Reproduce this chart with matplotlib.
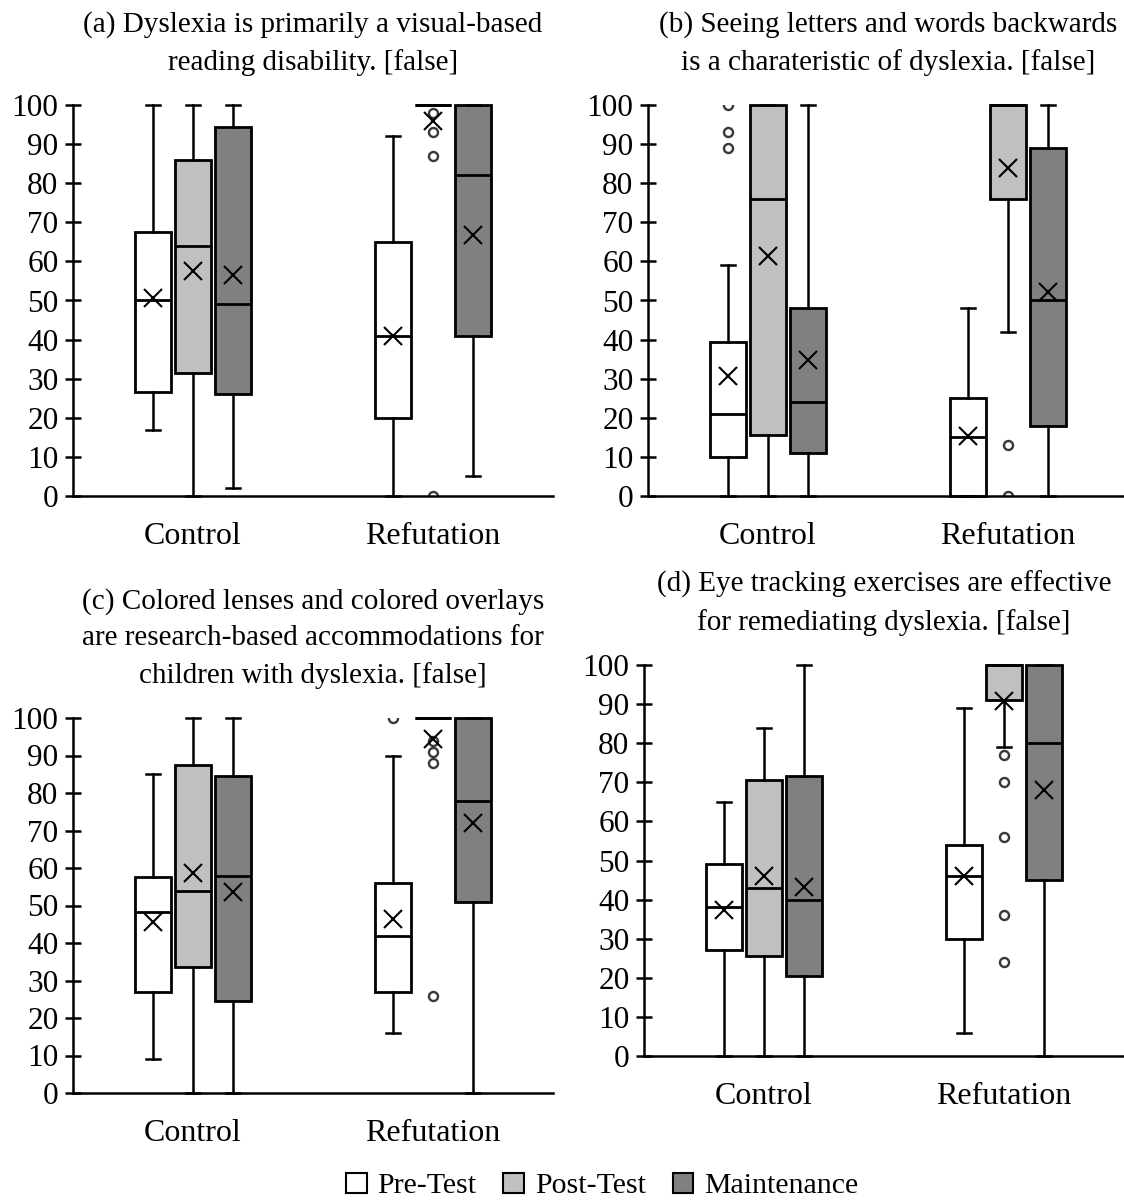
import matplotlib
matplotlib.use("Agg")
import matplotlib.pyplot as plt
from matplotlib.patches import Patch

plt.rcParams['font.family'] = ['Liberation Serif', 'DejaVu Serif']

W, H = 1124, 1201

groups = ['Control', 'Refutation']
phases = ['Pre-Test', 'Post-Test', 'Maintenance']
colors = ['#ffffff', '#c0c0c0', '#808080']

titles = [
    '(a) Dyslexia is primarily a visual-based\nreading disability. [false]',
    '(b) Seeing letters and words backwards\nis a charateristic of dyslexia. [false]',
    '(c) Colored lenses and colored overlays\nare research-based accommodations for\nchildren with dyslexia. [false]',
    '(d) Eye tracking exercises are effective\nfor remediating dyslexia. [false]',
]

# per panel: [Control(pre, post, maint), Refutation(pre, post, maint)]
# each box: (whislo, q1, med, q3, whishi, mean, fliers)
panel_a = [
    [(17, 26.5, 50, 67.5, 100, 50.7, []),
     (0, 31.5, 64, 86, 100, 57.5, []),
     (2, 26, 49, 94.5, 100, 56.4, [])],
    [(0, 20, 41, 65, 92, 41, []),
     (100, 100, 100, 100, 100, 95.8, [98, 93, 87, 0]),
     (5, 41, 82, 100, 100, 66.8, [])],
]
panel_b = [
    [(0, 10, 21, 39.5, 59, 30.8, [100, 93, 89]),
     (0, 15.5, 76, 100, 100, 61.3, []),
     (0, 11, 24, 48, 100, 34.8, [])],
    [(0, 0, 15, 25, 48, 15.3, []),
     (42, 76, 100, 100, 100, 83.8, [13, 0]),
     (0, 18, 50, 89, 100, 52.2, [])],
]
panel_c = [
    [(9, 27, 48.2, 57.5, 85, 45.5, []),
     (0, 33.5, 54, 87.5, 100, 58.8, []),
     (0, 24.5, 58, 84.5, 100, 53.6, [])],
    [(16, 27, 42, 56, 90, 46.5, [100]),
     (100, 100, 100, 100, 100, 94.3, [94, 91, 88, 26]),
     (0, 51, 78, 100, 100, 72, [])],
]
panel_d = [
    [(0, 27, 38, 49, 65, 37.3, []),
     (0, 25.5, 43, 70.5, 84, 46, []),
     (0, 20.5, 40, 71.5, 100, 43.2, [])],
    [(6, 30, 46, 54, 89, 46, []),
     (79, 91, 100, 100, 100, 90.7, [77, 70, 56, 36, 24]),
     (0, 45, 80, 100, 100, 68, [])],
]
panels = [panel_a, panel_b, panel_c, panel_d]

# pixel boxes: left, top, right, bottom
frames = [(73, 105, 553, 496), (648, 105, 1128, 496),
          (73, 718, 553, 1093), (644, 665, 1124, 1056)]

fig = plt.figure(figsize=(W / 100, H / 100), dpi=100)

offsets = [-1 / 6, 0, 1 / 6]
for title, data, (l, t, r, b) in zip(titles, panels, frames):
    ax = fig.add_axes([l / W, 1 - b / H, (r - l) / W, (b - t) / H])
    for gi, group in enumerate(data):
        for pi, (lo, q1, med, q3, hi, mean, fl) in enumerate(group):
            st = dict(whislo=lo, q1=q1, med=med, q3=q3, whishi=hi, mean=mean, fliers=fl)
            res = ax.bxp([st], positions=[gi + 1 + offsets[pi]], widths=0.15,
                         capwidths=0.06, showmeans=True, patch_artist=True,
                         boxprops=dict(facecolor=colors[pi], edgecolor='black', linewidth=2),
                         medianprops=dict(color='black', linewidth=2),
                         whiskerprops=dict(color='black', linewidth=1.8),
                         capprops=dict(color='black', linewidth=1.8),
                         meanprops=dict(marker='x', markersize=13, markeredgecolor='black',
                                        markeredgewidth=1.5),
                         flierprops=dict(marker='o', markersize=6.5, markerfacecolor='none',
                                         markeredgecolor='#383838', markeredgewidth=1.7))
            for key in ['boxes', 'medians', 'whiskers', 'caps', 'means']:
                for a in res[key]:
                    a.set_clip_on(False)
    ax.set_xlim(0.5, 2.5)
    ax.set_ylim(0, 100)
    ax.set_yticks(range(0, 101, 10))
    ax.set_xticks([1, 2])
    ax.set_xticklabels(groups)
    ax.spines['top'].set_visible(False)
    ax.spines['right'].set_visible(False)
    ax.spines['left'].set_linewidth(1.8)
    ax.spines['bottom'].set_linewidth(1.8)
    ax.tick_params(axis='y', direction='inout', length=11, width=1.8, labelsize=22.5, pad=5)
    ax.tick_params(axis='x', length=0, labelsize=23, pad=19)
    ax.set_title(title, fontsize=21, pad=25, linespacing=1.52)

handles = [Patch(facecolor=c, edgecolor='black', linewidth=1.5) for c in colors]
fig.legend(handles, phases, loc='center', bbox_to_anchor=(602 / W, 1 - 1186 / H),
           ncol=3, frameon=False, fontsize=21.5, handlelength=0.7, handleheight=0.7,
           handletextpad=0.35, columnspacing=0.9)

fig.savefig('out.png', dpi=100)
